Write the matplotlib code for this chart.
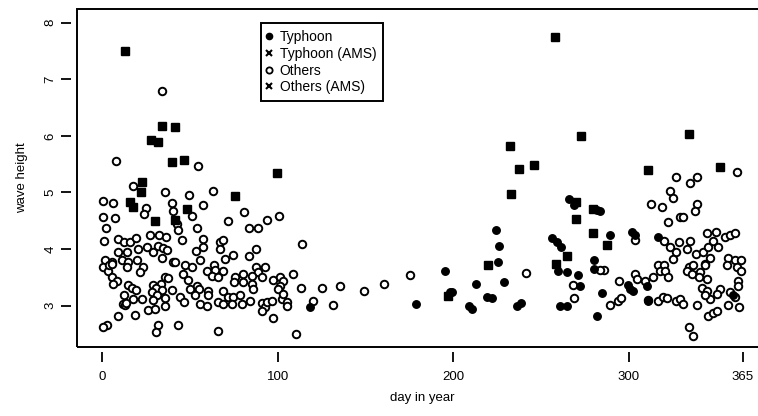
import matplotlib.pyplot as plt
from matplotlib.lines import Line2D
from matplotlib.patches import Rectangle

# typhoon events (filled circles)
typhoon_day = [
    281.6, 283.5, 266.0, 268.9, 224.3, 226.2, 256.0, 258.8, 261.3, 225.2,
    259.8, 264.6, 271.2, 280.3, 280.3, 195.2, 212.7, 228.8, 272.1, 199.0,
    219.0, 221.8, 209.0, 210.8, 236.0, 238.5, 260.7, 264.6, 281.6, 284.4,
    178.7, 118.3, 289.2, 301.5, 303.4, 316.4, 299.6, 300.6, 302.1, 310.1,
    311.0, 359.5, 198.0,
]
typhoon_wave = [
    4.69, 4.68, 4.88, 4.78, 4.34, 4.06, 4.19, 4.12, 4.03, 3.78,
    3.62, 3.59, 3.54, 3.81, 3.64, 3.61, 3.39, 3.41, 3.34, 3.24,
    3.16, 3.13, 3.00, 2.94, 2.99, 3.04, 2.99, 3.00, 2.81, 3.22,
    3.03, 2.98, 4.24, 4.30, 4.25, 4.22, 3.37, 3.30, 3.25, 3.35,
    3.09, 3.19, 3.24,
]

# typhoon annual maxima (drawn as filled squares)
typhoon_ams_day = [257.9, 272.9, 232.0, 237.4, 245.8, 232.6, 269.9, 279.7,
                   270.0, 279.4, 287.5, 264.7, 219.9, 258.5, 196.7]
typhoon_ams_wave = [7.74, 6.00, 5.83, 5.42, 5.49, 4.98, 4.84, 4.70,
                    4.53, 4.28, 4.07, 3.87, 3.72, 3.74, 3.17]

# other events (open circles)
others_day = [
    # Jan - Feb
    7.6, 17.6, 35.7, 49.5, 0.5, 6.2, 24.9, 23.9, 39.5, 40.4,
    50.9, 0.5, 7.2, 1.9, 42.3, 43.3, 45.2, 1.1, 8.7, 12.5,
    15.7, 19.0, 27.1, 32.3, 36.1, 25.2, 20.5, 29.0, 31.9, 34.7,
    36.6, 9.1, 13.8, 34.2, 1.5, 5.3, 11.0, 14.8, 19.5, 23.3,
    13.8, 0.5, 3.4, 21.4, 47.1, 50.9, 46.1, 5.3, 8.1, 6.2,
    14.8, 16.7, 19.0, 35.7, 37.6, 29.0, 33.4, 30.4, 28.1, 33.8,
    39.5, 49.0, 49.9, 12.5, 17.6, 22.4, 31.0, 35.7, 29.0, 44.2,
    46.7, 35.7, 9.1, 18.6, 26.2, 30.0, 2.4, 0.5, 31.9, 30.4,
    42.9, 4.0, 5.3, 11.5, 12.6, 13.3, 40.0, 41.2, 34.1,
    # Feb - Apr
    54.6, 62.8, 57.5, 80.7, 71.7, 94.0, 100.8, 83.7, 88.8, 54.1,
    57.5, 57.5, 53.3, 67.0, 68.9, 67.0, 87.5, 74.6, 69.8, 83.7,
    55.6, 63.6, 59.4, 64.1, 68.9, 87.5, 92.6, 88.8, 62.2, 66.0,
    75.5, 80.3, 85.0, 75.0, 80.3, 85.0, 90.7, 97.4, 101.2, 103.1,
    108.4, 101.2, 100.2, 53.7, 55.2, 60.3, 68.9, 86.0, 52.7, 60.3,
    66.0, 68.9, 71.7, 74.2, 78.4, 73.6, 79.3, 84.1, 90.7, 92.6,
    90.7, 94.0, 96.4, 102.1, 105.0, 105.0, 103.1, 55.6, 59.4, 97.0,
    66.0, 110.3,
    # May - Jun
    114.0, 113.0, 120.2, 125.3, 135.4, 131.6, 149.0, 160.6, 175.3,
    # Aug - Sep
    241.4, 268.0, 268.9,
    # Oct - Dec
    361.4, 326.8, 339.0, 334.8, 323.4, 325.3, 312.6, 318.6, 338.6, 337.6,
    329.1, 330.6, 322.4, 344.3, 349.6, 354.7, 357.6, 360.4, 320.0, 323.4,
    328.7, 334.8, 332.9, 326.8, 325.3, 338.2, 342.4, 345.2, 348.1, 350.9,
    346.2, 343.3, 356.6, 360.4, 363.6, 355.7, 361.4, 363.6, 316.7, 320.0,
    317.7, 320.5, 334.4, 336.7, 332.9, 335.7, 340.5, 343.3, 340.1, 344.3,
    362.3, 362.3, 341.4, 344.3, 351.9, 350.0, 346.2, 343.3, 357.6, 360.4,
    356.6, 362.7, 339.0, 303.4, 304.4, 313.9, 309.1, 322.4, 294.3, 289.2,
    293.9, 295.5, 311.0, 316.7, 319.2, 321.5, 326.8, 329.1, 330.6, 345.2,
    347.7, 350.0, 334.4, 336.7, 285.8, 283.5, 303.4,
]
others_wave = [
    5.55, 5.12, 5.00, 4.95, 4.85, 4.82, 4.72, 4.62, 4.81, 4.67,
    4.59, 4.57, 4.55, 4.38, 4.44, 4.34, 4.16, 4.15, 4.17, 4.12,
    4.12, 4.19, 4.25, 4.25, 4.22, 4.04, 4.00, 3.94, 4.06, 4.02,
    3.98, 3.94, 3.94, 3.85, 3.81, 3.77, 3.81, 3.78, 3.81, 3.69,
    3.69, 3.69, 3.62, 3.59, 3.71, 3.68, 3.56, 3.50, 3.44, 3.38,
    3.37, 3.32, 3.27, 3.51, 3.49, 3.37, 3.38, 3.32, 3.24, 3.27,
    3.27, 3.45, 3.29, 3.19, 3.12, 3.12, 3.18, 3.14, 3.10, 3.15,
    3.06, 3.00, 2.81, 2.84, 2.92, 2.94, 2.66, 2.62, 2.65, 2.53,
    2.66, 3.72, 3.74, 3.03, 3.02, 3.05, 3.78, 3.77, 6.79,
    5.47, 5.03, 4.78, 4.65, 4.50, 4.52, 4.58, 4.37, 4.37, 4.38,
    4.18, 4.04, 3.97, 4.12, 4.16, 4.00, 4.00, 3.90, 3.82, 3.87,
    3.81, 3.71, 3.62, 3.63, 3.62, 3.68, 3.69, 3.59, 3.53, 3.50,
    3.50, 3.56, 3.53, 3.41, 3.41, 3.38, 3.50, 3.45, 3.50, 3.44,
    3.56, 3.35, 3.29, 3.35, 3.29, 3.26, 3.26, 3.29, 3.19, 3.18,
    3.06, 3.03, 3.16, 3.15, 3.18, 3.03, 3.03, 3.09, 3.04, 2.97,
    2.90, 3.06, 3.09, 3.12, 3.06, 3.00, 3.21, 3.03, 3.00, 2.78,
    2.55, 2.50,
    4.09, 3.32, 3.08, 3.31, 3.34, 3.01, 3.26, 3.39, 3.55,
    3.58, 3.37, 3.13,
    5.36, 5.28, 5.28, 5.16, 5.02, 4.91, 4.80, 4.74, 4.80, 4.68,
    4.56, 4.56, 4.47, 4.28, 4.30, 4.21, 4.25, 4.28, 4.14, 4.03,
    4.12, 4.14, 4.00, 3.94, 3.82, 3.91, 3.94, 4.03, 4.15, 4.03,
    3.85, 3.74, 3.85, 3.80, 3.80, 3.71, 3.68, 3.62, 3.72, 3.71,
    3.62, 3.62, 3.69, 3.72, 3.62, 3.56, 3.59, 3.71, 3.50, 3.47,
    3.44, 3.35, 3.32, 3.26, 3.29, 3.21, 3.12, 3.18, 3.24, 3.15,
    3.02, 2.98, 3.02, 3.56, 3.47, 3.50, 3.44, 3.50, 3.44, 3.02,
    3.09, 3.14, 3.10, 3.09, 3.15, 3.14, 3.09, 3.12, 3.03, 2.82,
    2.87, 2.91, 2.63, 2.47, 3.63, 3.63, 4.16,
]

# other annual maxima (drawn as filled squares)
others_ams_day = [13.0, 33.8, 41.4, 27.7, 31.9, 39.7, 46.7, 99.3, 22.4, 22.0,
                  15.7, 17.6, 75.6, 30.0, 48.0, 41.4, 311.0, 334.4, 351.9]
others_ams_wave = [7.50, 6.18, 6.15, 5.93, 5.90, 5.53, 5.58, 5.34, 5.18, 5.01,
                   4.84, 4.74, 4.94, 4.49, 4.70, 4.51, 5.40, 6.03, 5.45]

x_ticks = [0, 100, 200, 300, 365]
y_ticks = [3, 4, 5, 6, 7, 8]
legend_labels = ['Typhoon', 'Typhoon (AMS)', 'Others', 'Others (AMS)']

plt.rcParams['font.family'] = ['Liberation Sans', 'DejaVu Sans']

fig = plt.figure(figsize=(7.58, 4.16), dpi=100)
ax = fig.add_axes([0.1013, 0.166, 0.9127, 0.812])

ms = 5.4
ax.plot(others_day, others_wave, 'o', ms=ms, mfc='white', mec='black', mew=1.4, ls='none')
ax.plot(typhoon_day, typhoon_wave, 'o', ms=ms, mfc='black', mec='black', mew=1.0, ls='none')
ax.plot(typhoon_ams_day, typhoon_ams_wave, 's', ms=ms, mfc='black', mec='black', mew=1.0, ls='none')
ax.plot(others_ams_day, others_ams_wave, 's', ms=ms, mfc='black', mec='black', mew=1.0, ls='none')

ax.set_xlim(-14.6, 379.6)
ax.set_ylim(2.27, 8.24)

# R style box with ticks set slightly away from it
for side in ['left', 'bottom']:
    ax.spines[side].set_position(('outward', 4))
for s in ax.spines.values():
    s.set_visible(False)
ax.add_patch(Rectangle((0, 0), 1, 1, transform=ax.transAxes, fill=False,
                       ec='black', lw=1.4, clip_on=False, zorder=5))

ax.set_xticks(x_ticks)
ax.set_yticks(y_ticks)
ax.tick_params(axis='both', direction='out', length=7, width=1.3, labelsize=9.5)
ax.tick_params(axis='x', pad=6)
ax.tick_params(axis='y', pad=3.5)
for lab in ax.get_yticklabels():
    lab.set_rotation(90)
    lab.set_va('center')

ax.set_xlabel('day in year', fontsize=9.5, labelpad=7)
ax.set_ylabel('wave height', fontsize=9.5, labelpad=12)

handles = [
    Line2D([], [], marker='o', ls='none', color='black', ms=4.5),
    Line2D([], [], marker='x', ls='none', color='black', ms=5, mew=1.5),
    Line2D([], [], marker='o', ls='none', mfc='white', mec='black', ms=4.5, mew=1.3),
    Line2D([], [], marker='x', ls='none', color='black', ms=5, mew=1.5),
]
leg = ax.legend(handles, legend_labels, loc='upper left', bbox_to_anchor=(0.266, 0.959),
                fontsize=10, frameon=True, fancybox=False, framealpha=1,
                edgecolor='black', handlelength=0.2, handletextpad=0.66,
                labelspacing=0.2, borderpad=0.5, borderaxespad=0)
leg.get_frame().set_linewidth(1.4)

fig.savefig('out.png', dpi=100)
